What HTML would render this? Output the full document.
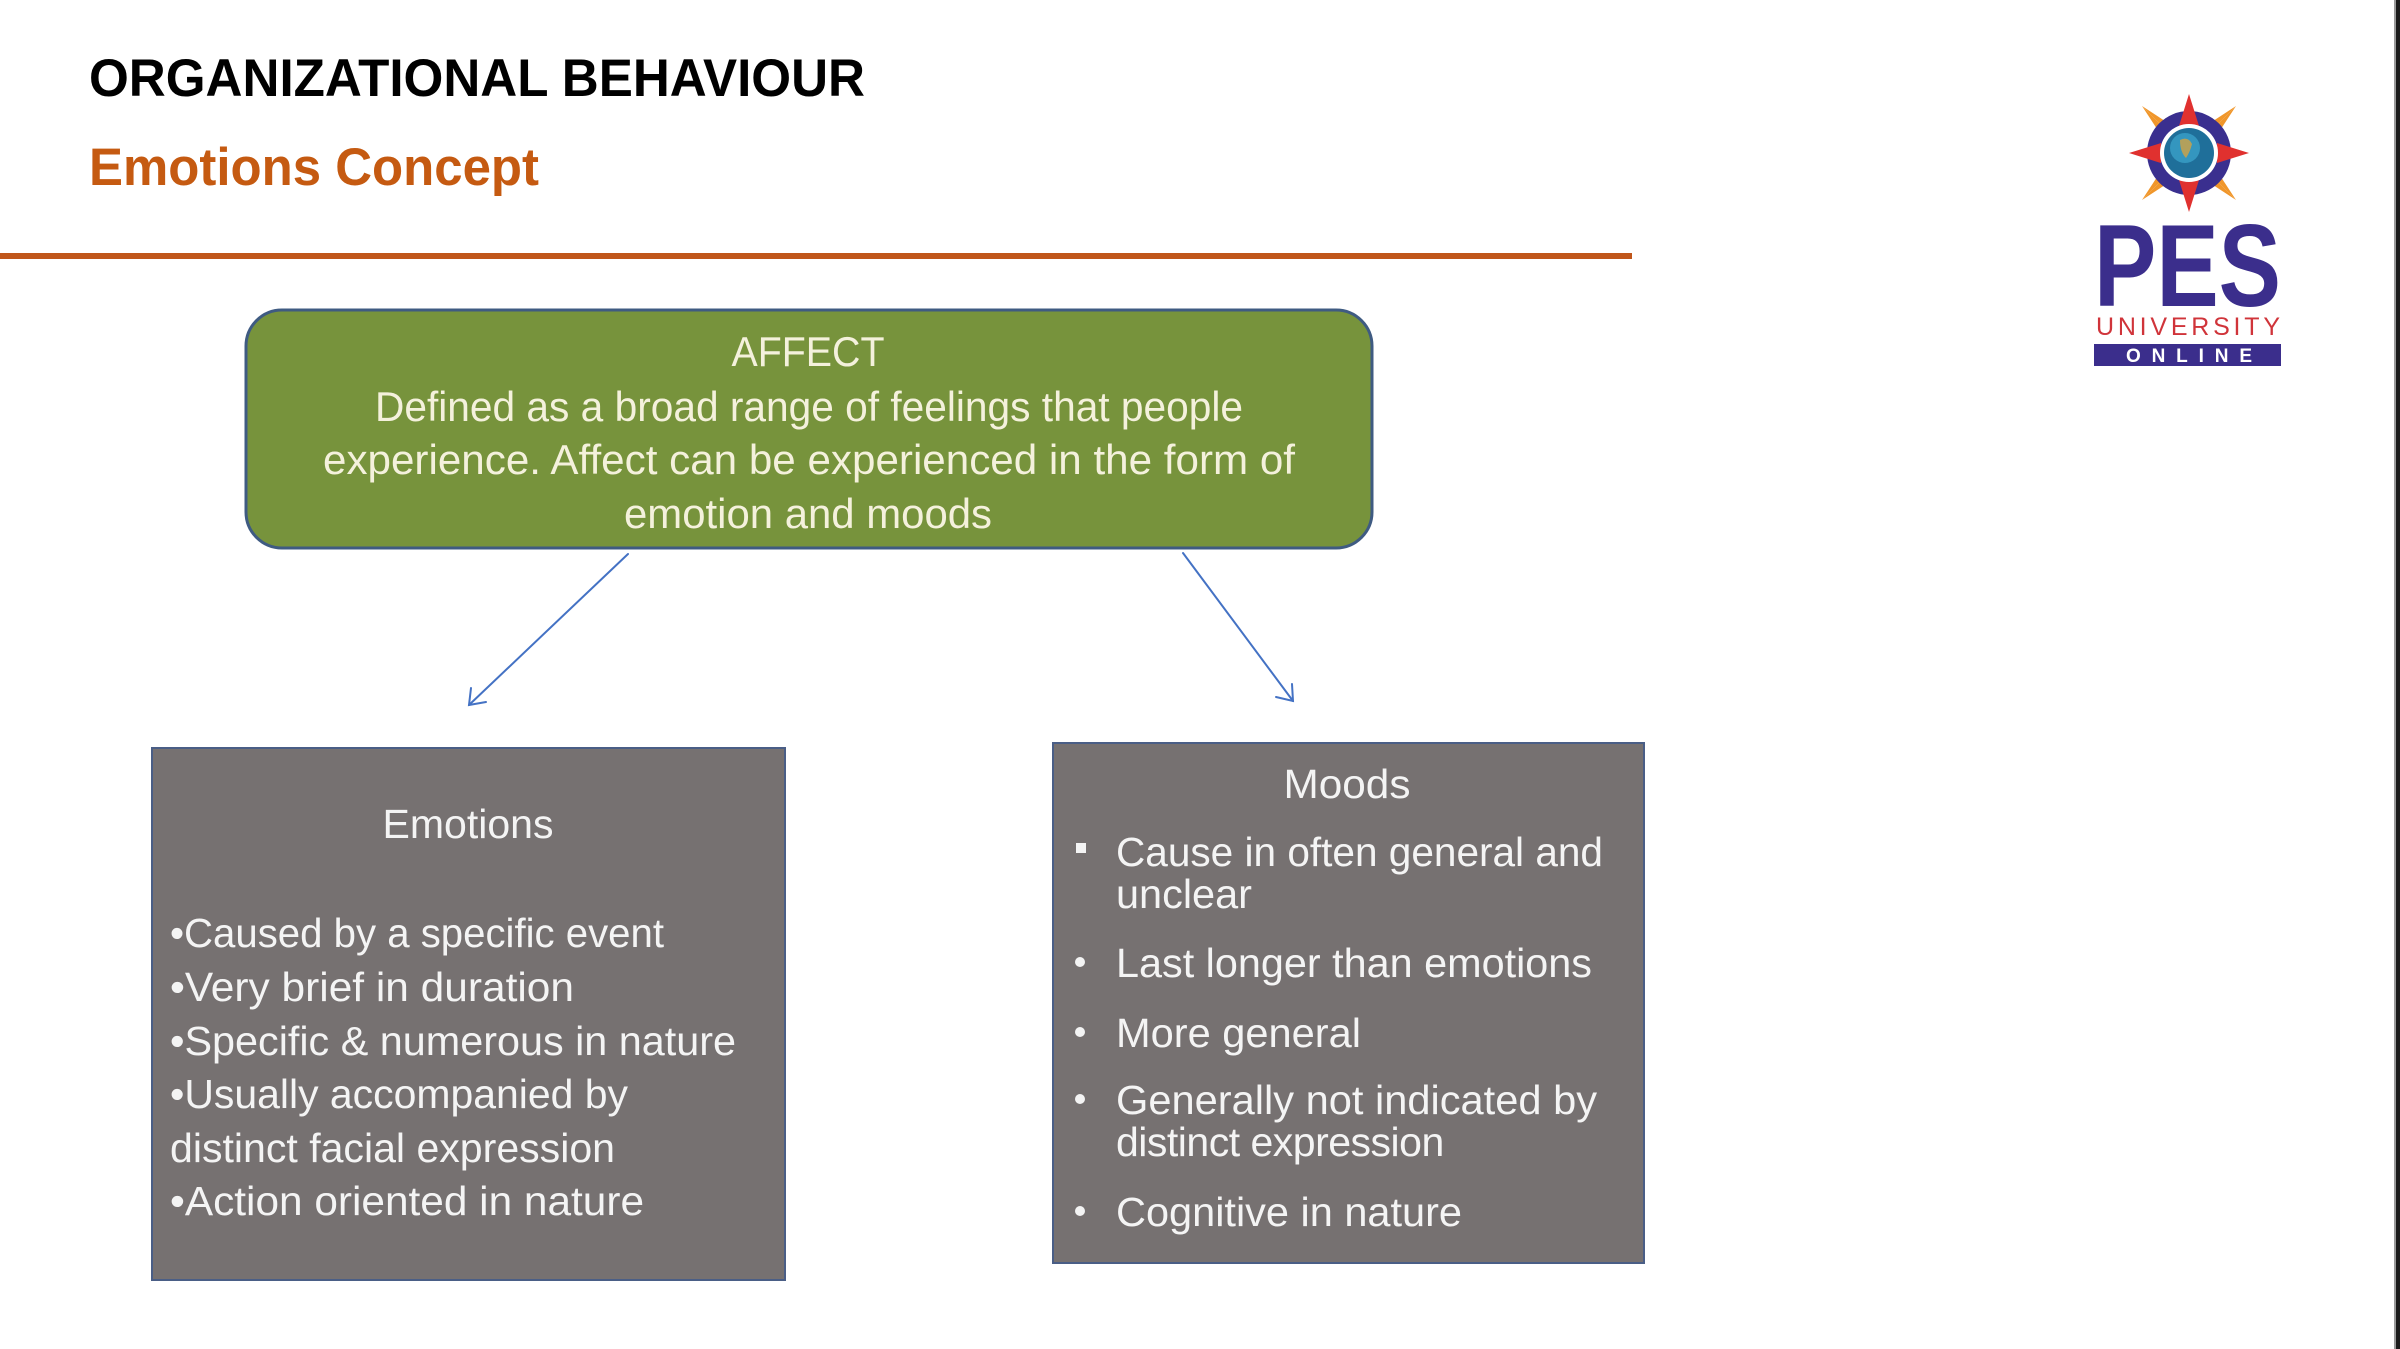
<!DOCTYPE html>
<html>
<head>
<meta charset="utf-8">
<style>
  html,body{margin:0;padding:0;background:#fff;}
  body{width:2400px;height:1349px;overflow:hidden;}
  svg{display:block;}
  text{font-family:"Liberation Sans", "DejaVu Sans", sans-serif;}
</style>
</head>
<body>
<svg width="2400" height="1349" viewBox="0 0 2400 1349" xmlns="http://www.w3.org/2000/svg">
  <rect x="0" y="0" width="2400" height="1349" fill="#ffffff"/>
  <!-- right edge -->
  <rect x="2394" y="0" width="2" height="1349" fill="#9a9a9a"/>
  <rect x="2396" y="0" width="4" height="1349" fill="#1a1a1a"/>

  <!-- Titles -->
  <text x="89" y="96" font-size="53" font-weight="bold" fill="#000" textLength="776" lengthAdjust="spacingAndGlyphs">ORGANIZATIONAL  BEHAVIOUR</text>
  <text x="89" y="185" font-size="53" font-weight="bold" fill="#C55A11" textLength="450" lengthAdjust="spacingAndGlyphs">Emotions Concept</text>
  <rect x="0" y="253" width="1632" height="6" fill="#C0561A"/>

  <!-- Logo -->
  <g>
    <g fill="#F0962A">
      <polygon points="2189,153 2236,106 2202,158"/>
      <polygon points="2189,153 2236,106 2184,140"/>
      <polygon points="2189,153 2142,106 2194,140"/>
      <polygon points="2189,153 2142,106 2176,158"/>
      <polygon points="2189,153 2142,200 2176,148"/>
      <polygon points="2189,153 2142,200 2194,166"/>
      <polygon points="2189,153 2236,200 2184,166"/>
      <polygon points="2189,153 2236,200 2202,148"/>
    </g>
    <circle cx="2189" cy="153" r="42" fill="#3A2F8F"/>
    <g fill="#E0312F">
      <polygon points="2189,94 2179,126 2199,126"/>
      <polygon points="2189,212 2179,180 2199,180"/>
      <polygon points="2129,153 2161,143 2161,163"/>
      <polygon points="2249,153 2217,143 2217,163"/>
    </g>
    <circle cx="2189" cy="153" r="29" fill="#ffffff"/>
    <circle cx="2189" cy="153" r="25" fill="#1f6f9a"/>
    <circle cx="2185" cy="148" r="15" fill="#3aa0c8" opacity="0.8"/>
    <path d="M2180,140 q8,-4 12,4 q-2,8 -6,14 q-6,-6 -6,-18z" fill="#c9a24a" opacity="0.85"/>
    <text x="2094" y="306" font-size="117" font-weight="bold" fill="#3B2E8C" textLength="187" lengthAdjust="spacingAndGlyphs">PES</text>
    <text x="2096" y="335" font-size="25" fill="#D0343A" textLength="184" lengthAdjust="spacing">UNIVERSITY</text>
    <rect x="2094" y="344" width="187" height="22" fill="#3B2E8C"/>
    <text x="2126" y="362" font-size="19" font-weight="bold" fill="#ffffff" textLength="126" lengthAdjust="spacing">ONLINE</text>
  </g>

  <!-- AFFECT box -->
  <rect x="246" y="310" width="1126" height="238" rx="36" ry="36" fill="#77933C" stroke="#3F5B82" stroke-width="3"/>
  <g fill="#F4F1DC" font-size="42">
    <text x="808" y="366" text-anchor="middle" textLength="153" lengthAdjust="spacingAndGlyphs">AFFECT</text>
    <text x="809" y="421" text-anchor="middle" textLength="868" lengthAdjust="spacingAndGlyphs">Defined as a broad range of feelings that people</text>
    <text x="809" y="474" text-anchor="middle" textLength="972" lengthAdjust="spacingAndGlyphs">experience.  Affect can be experienced in the form of</text>
    <text x="808" y="528" text-anchor="middle" textLength="368" lengthAdjust="spacingAndGlyphs">emotion and moods</text>
  </g>

  <!-- Arrows -->
  <g stroke="#4472C4" stroke-width="2" fill="none" stroke-linecap="round">
    <line x1="628" y1="554" x2="469" y2="705"/>
    <polyline points="471,688 469,705 486,702"/>
    <line x1="1183" y1="553" x2="1293" y2="701"/>
    <polyline points="1276,697 1293,701 1292,684"/>
  </g>

  <!-- Emotions box -->
  <rect x="152" y="748" width="633" height="532" fill="#767171" stroke="#4A5E86" stroke-width="2"/>
  <g fill="#F4F4F4" font-size="41">
    <text x="468" y="838" text-anchor="middle" textLength="171" lengthAdjust="spacingAndGlyphs">Emotions</text>
    <text x="170" y="947" textLength="494" lengthAdjust="spacingAndGlyphs">•Caused by a specific event</text>
    <text x="170" y="1001" textLength="404" lengthAdjust="spacingAndGlyphs">•Very brief in duration</text>
    <text x="170" y="1055" textLength="566" lengthAdjust="spacingAndGlyphs">•Specific &amp; numerous in nature</text>
    <text x="170" y="1108" textLength="458" lengthAdjust="spacingAndGlyphs">•Usually accompanied by</text>
    <text x="170" y="1162" textLength="445" lengthAdjust="spacingAndGlyphs">distinct facial expression</text>
    <text x="170" y="1215" textLength="474" lengthAdjust="spacingAndGlyphs">•Action oriented in nature</text>
  </g>

  <!-- Moods box -->
  <rect x="1053" y="743" width="591" height="520" fill="#767171" stroke="#4A5E86" stroke-width="2"/>
  <g fill="#F4F4F4" font-size="41">
    <text x="1347" y="798" text-anchor="middle" textLength="127" lengthAdjust="spacingAndGlyphs">Moods</text>
    <text x="1116" y="866" textLength="487" lengthAdjust="spacingAndGlyphs">Cause in often general and</text>
    <text x="1116" y="908" textLength="136" lengthAdjust="spacingAndGlyphs">unclear</text>
    <text x="1116" y="977" textLength="476" lengthAdjust="spacingAndGlyphs">Last longer than emotions</text>
    <text x="1116" y="1047" textLength="245" lengthAdjust="spacingAndGlyphs">More general</text>
    <text x="1116" y="1114" textLength="481" lengthAdjust="spacingAndGlyphs">Generally not indicated by</text>
    <text x="1116" y="1156" letter-spacing="-0.5">distinct expression</text>
    <text x="1116" y="1226" textLength="346" lengthAdjust="spacingAndGlyphs">Cognitive in nature</text>
  </g>
  <g fill="#F4F4F4">
    <rect x="1076" y="843" width="10" height="10"/>
    <circle cx="1080" cy="962" r="5"/>
    <circle cx="1080" cy="1032" r="5"/>
    <circle cx="1080" cy="1099" r="5"/>
    <circle cx="1080" cy="1211" r="5"/>
  </g>
</svg>
</body>
</html>
